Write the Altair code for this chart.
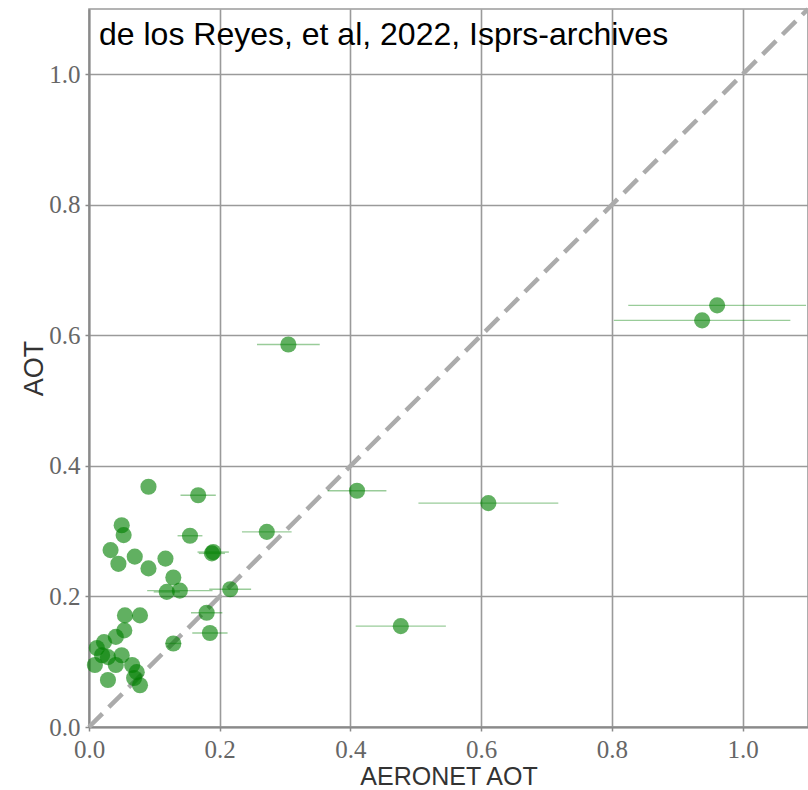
import altair as alt
import pandas as pd

# AERONET AOT (x), retrieved AOT (y) and the AERONET spread drawn as a horizontal bar
aeronet_aot = [0.961, 0.938, 0.305, 0.410, 0.611, 0.477, 0.272, 0.216,
               0.091, 0.167, 0.1545, 0.190, 0.188, 0.050, 0.053, 0.033,
               0.045, 0.070, 0.091, 0.117, 0.129, 0.119, 0.139, 0.180,
               0.185, 0.129, 0.055, 0.078, 0.054, 0.041, 0.023, 0.012,
               0.029, 0.009, 0.041, 0.029, 0.066, 0.073, 0.078, 0.069,
               0.050, 0.020]
aot = [0.646, 0.623, 0.586, 0.362, 0.343, 0.1545, 0.299, 0.211,
       0.368, 0.355, 0.293, 0.268, 0.266, 0.309, 0.294, 0.271,
       0.250, 0.261, 0.243, 0.258, 0.229, 0.207, 0.209, 0.175,
       0.144, 0.128, 0.171, 0.171, 0.148, 0.138, 0.130, 0.121,
       0.107, 0.095, 0.095, 0.072, 0.095, 0.084, 0.064, 0.075,
       0.110, 0.110]
aeronet_err = [0.136, 0.135, 0.048, 0.045, 0.107, 0.069, 0.038, 0.032,
               0.0, 0.027, 0.019, 0.024, 0.020, 0.0, 0.0, 0.0,
               0.0, 0.0, 0.0, 0.0, 0.0, 0.020, 0.050, 0.024,
               0.027, 0.012, 0.0, 0.0, 0.0, 0.0, 0.0, 0.0,
               0.0, 0.0, 0.0, 0.0, 0.0, 0.0, 0.0, 0.0,
               0.0, 0.0]

tick_values = [0.0, 0.2, 0.4, 0.6, 0.8, 1.0]
axis_range = [0.0, 1.1]
source_note = "de los Reyes, et al, 2022, Isprs-archives"

df = pd.DataFrame({"aeronet": aeronet_aot, "aot": aot, "err": aeronet_err})
df["lo"] = df["aeronet"] - df["err"]
df["hi"] = df["aeronet"] + df["err"]

W, H = 719, 718

x_scale = alt.Scale(domain=axis_range, nice=False, zero=False)
y_scale = alt.Scale(domain=axis_range, nice=False, zero=False)

x_axis = alt.Axis(
    values=tick_values, format=".1f", title="AERONET AOT",
    titleX=W / 2, titleY=57, titleAlign="center", titleBaseline="alphabetic",
    titleFontSize=25, labelPadding=6, labelFlush=False,
)
y_axis = alt.Axis(
    values=tick_values, format=".1f", title="AOT",
    titleX=-47, titleY=H / 2, titleAngle=270, titleAlign="center",
    titleBaseline="alphabetic", titleFontSize=27,
    labelPadding=5, labelFlush=False,
)

# 1:1 reference line
diag = alt.Chart(pd.DataFrame({"v": axis_range})).mark_line(
    color="#ababab", strokeWidth=4.5, strokeDash=[19, 9]
).encode(
    x=alt.X("v:Q", scale=x_scale, axis=x_axis),
    y=alt.Y("v:Q", scale=y_scale, axis=y_axis),
)

errbars = alt.Chart(df).transform_filter("datum.err > 0").mark_rule(
    color="green", opacity=0.4, strokeWidth=1.4, clip=True
).encode(
    x=alt.X("lo:Q", scale=x_scale, axis=x_axis),
    x2="hi:Q",
    y=alt.Y("aot:Q", scale=y_scale, axis=y_axis),
)

points = alt.Chart(df).mark_circle(
    size=260, color="green", opacity=0.62
).encode(
    x=alt.X("aeronet:Q", scale=x_scale, axis=x_axis),
    y=alt.Y("aot:Q", scale=y_scale, axis=y_axis),
)

note = alt.Chart(pd.DataFrame({"t": [source_note]})).mark_text(
    align="left", baseline="alphabetic", font="Liberation Sans",
    fontSize=32, color="black"
).encode(x=alt.value(10), y=alt.value(36), text="t:N")

chart = alt.layer(diag, errbars, points, note).properties(
    width=W, height=H,
    padding={"left": 89, "top": 9, "right": 0, "bottom": 63},
    autosize=alt.AutoSizeParams(type="none"),
    background="white",
).configure_view(
    stroke="#9a9a9a", strokeWidth=1.6
).configure_axis(
    grid=True, gridColor="#9a9a9a", gridWidth=1.6, gridOpacity=1,
    domainColor="#8a8a8a", domainWidth=2,
    tickColor="#8a8a8a", tickSize=4, tickWidth=1.5,
    labelFont="Liberation Serif", labelFontSize=25, labelColor="#666666",
    labelOverlap=False, labelBound=False,
    titleFont="Liberation Sans", titleFontWeight="normal",
    titleColor="#333333",
)

chart.save("out.html", embed_options={"renderer": "svg", "actions": False})
